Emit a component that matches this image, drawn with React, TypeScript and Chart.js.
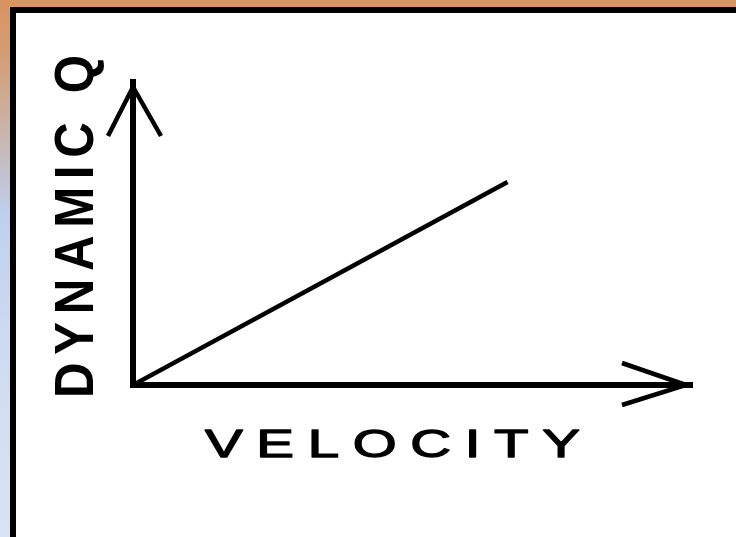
import React, { useEffect, useRef } from "react";
import { Chart, registerables } from "chart.js";

Chart.register(...registerables);

// Data
const velocity = [0, 6.7];
const dynamicQ = [0, 6.7];
const xRange = [0, 10];
const yRange = [0, 10];
const xTitle = "VELOCITY";
const yTitle = "DYNAMIC Q";

const arrowPlugin = {
  id: "arrowsAndTitles",
  afterDraw(chart: any) {
    const ctx = chart.ctx as CanvasRenderingContext2D;
    const xs = chart.scales.x;
    const ys = chart.scales.y;
    const left = xs.left;
    const right = xs.right;
    const top = ys.top;
    const bottom = ys.bottom;

    ctx.save();
    ctx.strokeStyle = "#000";
    ctx.lineJoin = "miter";
    ctx.lineCap = "butt";

    // horizontal arrow head
    ctx.lineWidth = 4.5;
    ctx.beginPath();
    ctx.moveTo(right - 70, bottom - 22);
    ctx.lineTo(right - 6, bottom);
    ctx.lineTo(right - 70, bottom + 20);
    ctx.stroke();

    // vertical arrow head
    ctx.lineWidth = 4.5;
    ctx.beginPath();
    ctx.moveTo(left - 25, top + 54);
    ctx.lineTo(left, top + 5);
    ctx.lineTo(left + 28, top + 54);
    ctx.stroke();

    ctx.fillStyle = "#000";
    ctx.textBaseline = "alphabetic";
    ctx.textAlign = "left";

    // x title
    ctx.save();
    ctx.font = '39px "Liberation Sans"';
    (ctx as any).letterSpacing = "0px";
    const wx = ctx.measureText(xTitle).width;
    const sxX = 1.45;
    const targetX = 375;
    const spX = (targetX / sxX - wx) / (xTitle.length - 1);
    (ctx as any).letterSpacing = spX + "px";
    ctx.translate(left + 72, bottom + 72);
    ctx.scale(sxX, 1);
    ctx.lineWidth = 1.3;
    ctx.lineJoin = "round";
    ctx.fillText(xTitle, 0, 0);
    ctx.strokeText(xTitle, 0, 0);
    ctx.restore();

    // y title (rotated)
    ctx.save();
    ctx.font = 'bold 56px "Liberation Sans"';
    (ctx as any).letterSpacing = "0px";
    const wy = ctx.measureText(yTitle).width;
    const sxY = 0.88;
    const targetY = 343;
    const spY = (targetY / sxY - wy) / (yTitle.length - 1);
    (ctx as any).letterSpacing = spY + "px";
    ctx.translate(left - 40, bottom + 13);
    ctx.rotate(-Math.PI / 2);
    ctx.scale(sxY, 1);
    ctx.fillText(yTitle, 0, 0);
    ctx.restore();

    ctx.restore();
  },
};

export default function App() {
  const canvasRef = useRef<HTMLCanvasElement | null>(null);

  useEffect(() => {
    if (!canvasRef.current) return;
    const chart = new Chart(canvasRef.current, {
      type: "line",
      data: {
        datasets: [
          {
            data: velocity.map((v, i) => ({ x: v, y: dynamicQ[i] })),
            borderColor: "#000",
            borderWidth: 4.5,
            pointRadius: 0,
            tension: 0,
            fill: false,
          },
        ],
      },
      options: {
        animation: false,
        responsive: false,
        devicePixelRatio: 1,
        layout: { padding: { left: 117, top: 69, right: 44, bottom: 152 } },
        plugins: { legend: { display: false }, tooltip: { enabled: false } },
        scales: {
          x: {
            type: "linear",
            min: xRange[0],
            max: xRange[1],
            ticks: { display: false },
            grid: { display: false, drawTicks: false },
            border: { display: true, color: "#000", width: 6 },
          },
          y: {
            type: "linear",
            min: yRange[0],
            max: yRange[1],
            ticks: { display: false },
            grid: { display: false, drawTicks: false },
            border: { display: true, color: "#000", width: 6 },
          },
        },
      },
      plugins: [arrowPlugin],
    });
    return () => chart.destroy();
  }, []);

  return (
    <div
      style={{
        position: "fixed",
        left: 0,
        top: 0,
        width: 736,
        height: 537,
        overflow: "hidden",
        background:
          "linear-gradient(to bottom, #d89562 0px, #d59a6f 45px, #c9b4aa 130px, #bfcfee 215px, #cddaf0 330px, #dae3f3 537px)",
      }}
    >
      <div
        style={{
          position: "absolute",
          left: 10,
          top: 7,
          width: 726,
          height: 530,
          boxSizing: "border-box",
          borderLeft: "6px solid #000",
          borderTop: "6px solid #000",
          background: "#fff",
        }}
      >
        <canvas
          ref={canvasRef}
          width={720}
          height={524}
          style={{ display: "block", width: 720, height: 524 }}
        />
      </div>
    </div>
  );
}
